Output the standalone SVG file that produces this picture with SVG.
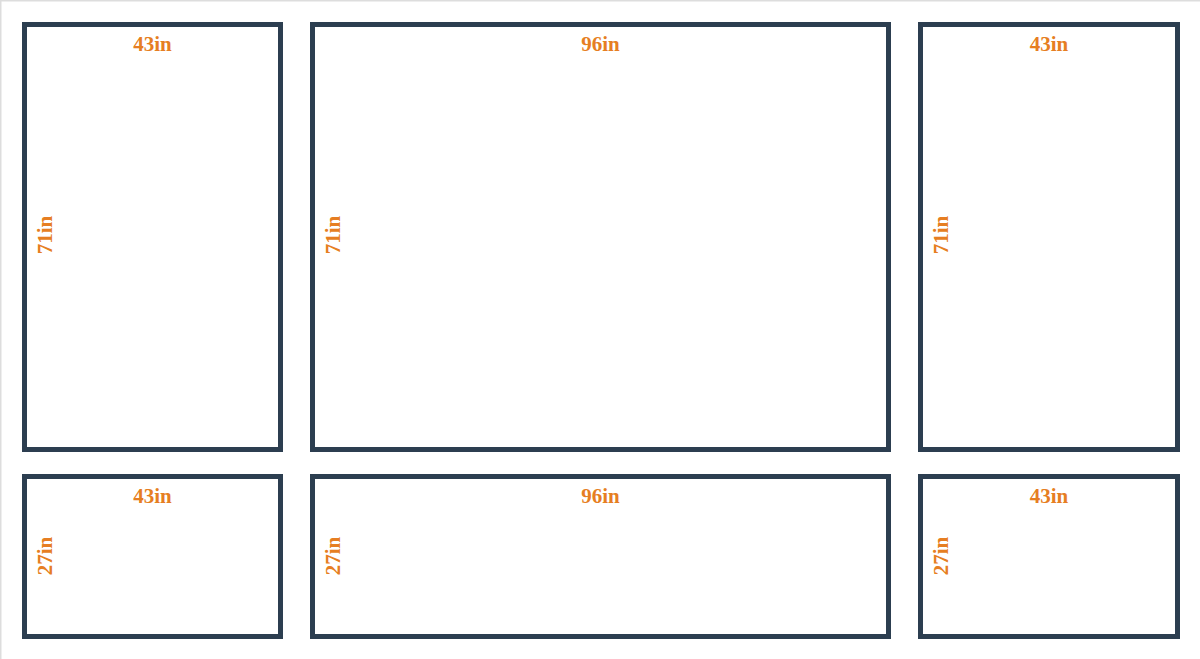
<svg xmlns="http://www.w3.org/2000/svg" width="1200" height="659" viewBox="0 0 1200 659">
<style>
.panel{fill:#ffffff;stroke:#2c3e50;stroke-width:5}
.lbl{font-family:"Liberation Serif","Times New Roman",serif;font-weight:bold;font-size:21px;fill:#e67e22;text-anchor:middle}
</style>
<rect x="0" y="0" width="1200" height="659" fill="#ffffff"/>
<line x1="0" y1="0.75" x2="1200" y2="0.75" stroke="#dddddd" stroke-width="1.5"/>
<line x1="0.75" y1="0" x2="0.75" y2="659" stroke="#dddddd" stroke-width="1.5"/>
<g id="panel-top-left">
<rect class="panel" x="24.5" y="24.5" width="256" height="425"/>
<text class="lbl" x="152.5" y="51">43in</text>
<text class="lbl" transform="translate(52,235) rotate(-90)" x="0" y="0">71in</text>
</g>
<g id="panel-top-center">
<rect class="panel" x="312.5" y="24.5" width="576" height="425"/>
<text class="lbl" x="600.5" y="51">96in</text>
<text class="lbl" transform="translate(340,235) rotate(-90)" x="0" y="0">71in</text>
</g>
<g id="panel-top-right">
<rect class="panel" x="920.5" y="24.5" width="257" height="425"/>
<text class="lbl" x="1049" y="51">43in</text>
<text class="lbl" transform="translate(948,235) rotate(-90)" x="0" y="0">71in</text>
</g>
<g id="panel-bottom-left">
<rect class="panel" x="24.5" y="476.5" width="256" height="160"/>
<text class="lbl" x="152.5" y="502.5">43in</text>
<text class="lbl" transform="translate(52,556) rotate(-90)" x="0" y="0">27in</text>
</g>
<g id="panel-bottom-center">
<rect class="panel" x="312.5" y="476.5" width="576" height="160"/>
<text class="lbl" x="600.5" y="502.5">96in</text>
<text class="lbl" transform="translate(340,556) rotate(-90)" x="0" y="0">27in</text>
</g>
<g id="panel-bottom-right">
<rect class="panel" x="920.5" y="476.5" width="257" height="160"/>
<text class="lbl" x="1049" y="502.5">43in</text>
<text class="lbl" transform="translate(948,556) rotate(-90)" x="0" y="0">27in</text>
</g>
<g id="connectors"></g>
</svg>
